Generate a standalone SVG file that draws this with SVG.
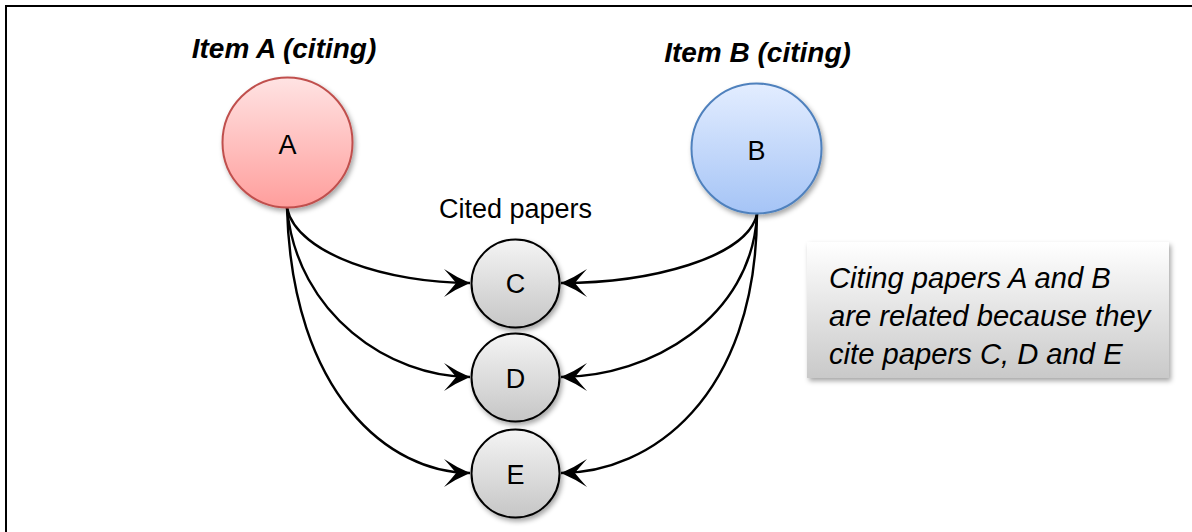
<svg xmlns="http://www.w3.org/2000/svg" width="1192" height="532" viewBox="0 0 1192 532">
  <style>
    .lbl { font-family: "Liberation Sans", Arial, sans-serif; fill: #000; }
    .title { font-size: 28px; font-weight: bold; font-style: italic; text-anchor: middle; }
    .node-text { font-size: 27px; text-anchor: middle; }
    .note { font-size: 29.2px; font-style: italic; }
    .edge { fill: none; stroke: #000; stroke-width: 2.4; marker-end: url(#barb); }
    .small { stroke: #000; stroke-width: 2; }
  </style>
  <defs>
    <linearGradient id="gA" x1="0" y1="0" x2="0" y2="1">
      <stop offset="0" stop-color="#ffe3e3"/>
      <stop offset="1" stop-color="#ff9e9c"/>
    </linearGradient>
    <linearGradient id="gB" x1="0" y1="0" x2="0" y2="1">
      <stop offset="0" stop-color="#e3edff"/>
      <stop offset="1" stop-color="#a5c4f6"/>
    </linearGradient>
    <linearGradient id="gG" x1="0" y1="0" x2="0" y2="1">
      <stop offset="0" stop-color="#f4f4f4"/>
      <stop offset="1" stop-color="#c6c6c6"/>
    </linearGradient>
    <linearGradient id="gBox" x1="0" y1="0" x2="0" y2="1">
      <stop offset="0" stop-color="#ffffff"/>
      <stop offset="1" stop-color="#c9c9c9"/>
    </linearGradient>
    <filter id="shadow" x="-20%" y="-20%" width="150%" height="150%">
      <feDropShadow dx="2" dy="3" stdDeviation="2.5" flood-color="#000" flood-opacity="0.35"/>
    </filter>
    <marker id="barb" markerUnits="userSpaceOnUse" viewBox="-28 -15 30 30" refX="0" refY="0" markerWidth="30" markerHeight="30" orient="auto">
      <path d="M0,0 Q-14,-6 -26,-14 Q-17,-4 -14,0 Q-17,4 -26,14 Q-14,6 0,0 Z" fill="#000"/>
    </marker>
  </defs>

  <!-- outer frame -->
  <rect x="6" y="6" width="1200" height="600" fill="#fff" stroke="#000" stroke-width="2"/>

  <!-- connectors -->
  <g id="connectors">
    <path class="edge" d="M287,208 C297,255 390,283 470,283"/>
    <path class="edge" d="M287,208 C297,315 390,377 470,377"/>
    <path class="edge" d="M287,208 C292,395 390,473 470,473"/>
    <path class="edge" d="M757,214 C747,258 650,283 561,283"/>
    <path class="edge" d="M757,214 C752,318 650,377 561,377"/>
    <path class="edge" d="M757,214 C756,398 650,473 561,473"/>
  </g>

  <g id="node-A">
    <text class="lbl title" x="284" y="58">Item A (citing)</text>
    <circle cx="287.5" cy="142.5" r="65" fill="url(#gA)" stroke="#c0504d" stroke-width="2" filter="url(#shadow)"/>
    <text class="lbl node-text" x="287.5" y="154">A</text>
  </g>

  <g id="node-B">
    <text class="lbl title" x="757.5" y="62">Item B (citing)</text>
    <circle cx="756.5" cy="148.5" r="65" fill="url(#gB)" stroke="#4f81bd" stroke-width="2" filter="url(#shadow)"/>
    <text class="lbl node-text" x="756.5" y="160">B</text>
  </g>

  <g id="cited-label">
    <text class="lbl" x="515.5" y="218" font-size="27" text-anchor="middle">Cited papers</text>
  </g>

  <g id="node-C">
    <circle class="small" cx="515.5" cy="283.5" r="44" fill="url(#gG)" filter="url(#shadow)"/>
    <text class="lbl node-text" x="515.5" y="293">C</text>
  </g>

  <g id="node-D">
    <circle class="small" cx="515.5" cy="377.5" r="44" fill="url(#gG)" filter="url(#shadow)"/>
    <text class="lbl node-text" x="515.5" y="388">D</text>
  </g>

  <g id="node-E">
    <circle class="small" cx="515.5" cy="473.5" r="44" fill="url(#gG)" filter="url(#shadow)"/>
    <text class="lbl node-text" x="515.5" y="484">E</text>
  </g>

  <g id="note">
    <rect x="807" y="242" width="362" height="136" fill="url(#gBox)" filter="url(#shadow)"/>
    <text class="lbl note" x="829" y="288">Citing papers A and B</text>
    <text class="lbl note" x="829" y="326">are related because they</text>
    <text class="lbl note" x="829" y="364">cite papers C, D and E</text>
  </g>
</svg>
